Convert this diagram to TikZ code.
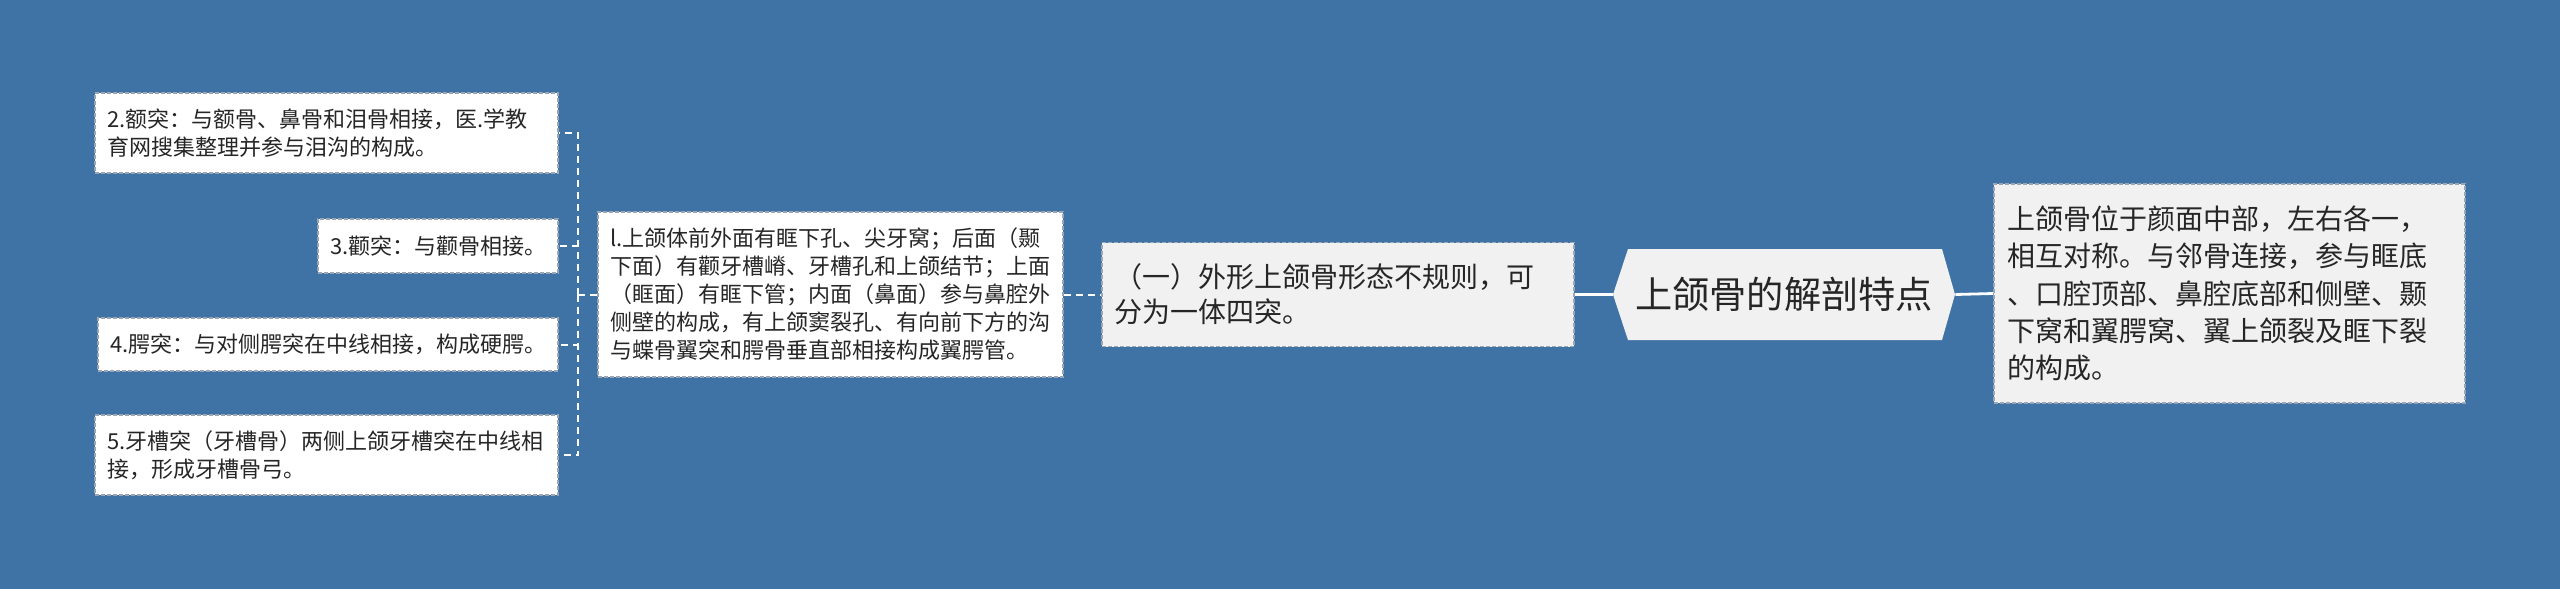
\documentclass[tikz,border=0pt]{standalone}
\usepackage{fontspec}
\setmainfont{Noto Sans CJK SC}
\definecolor{bg}{HTML}{3F73A5}
\definecolor{lbox}{HTML}{F1F1F1}
\definecolor{bord}{HTML}{9AA6B3}
\definecolor{txt}{HTML}{262626}
\begin{document}
\begin{tikzpicture}[x=0.5pt,y=-0.5pt,
  box/.style={draw=bord, dash pattern=on 2pt off 1pt, line width=0.7pt, fill=white,
    align=left, inner xsep=6pt, inner ysep=0pt, text=txt},
  graybox/.style={box, fill=lbox},
  fsmall/.style={font=\fontsize{11pt}{14pt}\selectfont},
  fmid/.style={font=\fontsize{14pt}{17.5pt}\selectfont},
  fright/.style={font=\fontsize{14pt}{18.7pt}\selectfont},
  dconn/.style={draw=white, line width=1pt, dash pattern=on 3.5pt off 2.5pt},
  sconn/.style={draw=white, line width=1.4pt},
]
\useasboundingbox (0,0) rectangle (2560,589);
\fill[bg] (0,0) rectangle (2560,589);

% left leaf boxes
\node[box, fsmall, minimum width=231.5pt, minimum height=40pt, text width=219.5pt] (b2) at (326.5,133)
  {2.额突：与额骨、鼻骨和泪骨相接，医.学教\\育网搜集整理并参与泪沟的构成。};
\node[box, fsmall, minimum width=120pt, minimum height=27pt, text width=108pt] (b3) at (438,246)
  {3.颧突：与颧骨相接。};
\node[box, fsmall, minimum width=230pt, minimum height=26.5pt, text width=218pt] (b4) at (328,344.5)
  {4.腭突：与对侧腭突在中线相接，构成硬腭。};
\node[box, fsmall, minimum width=231.5pt, minimum height=40pt, text width=219.5pt] (b5) at (326.5,455)
  {5.牙槽突（牙槽骨）两侧上颌牙槽突在中线相\\接，形成牙槽骨弓。};

% body box
\node[box, fsmall, minimum width=232.5pt, minimum height=82.5pt, text width=220.5pt] (bI) at (830.5,294.5)
  {l.上颌体前外面有眶下孔、尖牙窝；后面（颞\\下面）有颧牙槽嵴、牙槽孔和上颌结节；上面\\（眶面）有眶下管；内面（鼻面）参与鼻腔外\\侧壁的构成，有上颌窦裂孔、有向前下方的沟\\与蝶骨翼突和腭骨垂直部相接构成翼腭管。};

% shape box
\node[graybox, fmid, minimum width=236pt, minimum height=52pt, text width=224pt] (one) at (1338,294.5)
  {（一）外形上颌骨形态不规则，可\\分为一体四突。};

% central hexagon
\fill[lbox] (1613,294.5) -- (1628,249) -- (1942,249) -- (1955,294.5) -- (1942,340) -- (1628,340) -- cycle;
\node[text=txt, font=\fontsize{18.6pt}{22pt}\selectfont, minimum width=171pt, minimum height=45.5pt, inner sep=0pt] (hex) at (1784,294.5)
  {上颌骨的解剖特点};

% right box
\node[graybox, fright, minimum width=235.5pt, minimum height=109.5pt, text width=222.5pt] (R) at (2229.5,293.5)
  {上颌骨位于颜面中部，左右各一，\\相互对称。与邻骨连接，参与眶底\\、口腔顶部、鼻腔底部和侧壁、颞\\下窝和翼腭窝、翼上颌裂及眶下裂\\的构成。};

% connectors
\coordinate (j) at (578,294.5);
\draw[dconn] (bI.west) -- (j);
\draw[dconn] (j) |- (b2.east);
\draw[dconn] (j) |- (b3.east);
\draw[dconn] (j) |- (b4.east);
\draw[dconn] (j) |- (b5.east);
\draw[dconn] (bI.east) -- (one.west);
\draw[sconn] (one.east) -- (hex.west);
\draw[sconn] (hex.east) -- (R.west);
\end{tikzpicture}
\end{document}
